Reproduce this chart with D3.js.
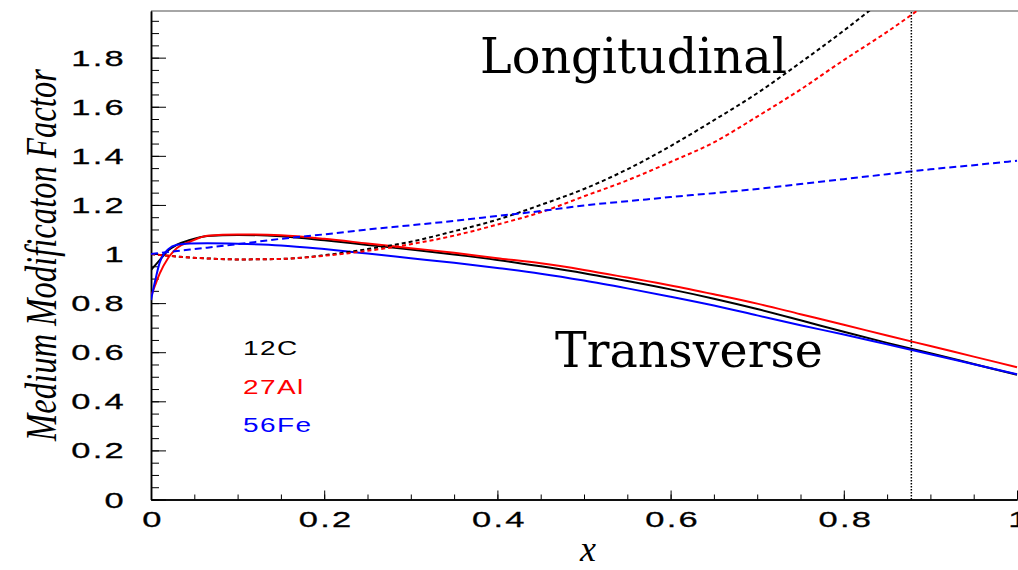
<!DOCTYPE html>
<html>
<head>
<meta charset="utf-8">
<script src="https://cdn.jsdelivr.net/npm/d3@7"></script>
<style>
  body { margin: 0; background: #fff; }
  svg { display: block; }
</style>
</head>
<body>
<div id="chart"></div>
<script>
// x grid shared by all curves
let xValues = [0, 0.005, 0.01, 0.02, 0.03, 0.045, 0.065, 0.1, 0.15, 0.2, 0.25, 0.3, 0.35, 0.4,
  0.45, 0.5, 0.55, 0.6, 0.65, 0.7, 0.75, 0.8, 0.85, 0.9, 0.95, 1.0]

// transverse (solid)
let carbonT = [0.935, 0.955, 0.975, 1.015, 1.038, 1.057, 1.073, 1.078, 1.072, 1.056, 1.037, 1.018, 0.998, 0.976,
  0.95, 0.922, 0.89, 0.856, 0.818, 0.776, 0.73, 0.683, 0.638, 0.596, 0.552, 0.508]
let aluminiumT = [0.827, 0.875, 0.92, 0.985, 1.025, 1.05, 1.074, 1.08, 1.076, 1.062, 1.043, 1.024, 1.005, 0.983,
  0.962, 0.935, 0.904, 0.872, 0.836, 0.798, 0.755, 0.712, 0.668, 0.625, 0.582, 0.539]
let ironT = [0.813, 0.894, 0.965, 1.02, 1.038, 1.043, 1.044, 1.042, 1.035, 1.02, 1.002, 0.983, 0.964, 0.943,
  0.92, 0.892, 0.86, 0.826, 0.79, 0.75, 0.71, 0.672, 0.632, 0.592, 0.551, 0.51]

// longitudinal (dashed)
let carbonL = [1.0, 0.998, 0.996, 0.993, 0.99, 0.986, 0.982, 0.978, 0.98, 0.995, 1.02, 1.05, 1.093, 1.14,
  1.2, 1.265, 1.345, 1.44, 1.545, 1.655, 1.78, 1.91, 2.05, 2.2, 2.35, 2.5]
let aluminiumL = [1.0, 0.998, 0.996, 0.993, 0.99, 0.986, 0.982, 0.978, 0.98, 0.993, 1.013, 1.04, 1.075, 1.12,
  1.17, 1.235, 1.3, 1.375, 1.455, 1.56, 1.67, 1.79, 1.905, 2.03, 2.16, 2.3]
let ironL = [1.0, 1.002, 1.004, 1.008, 1.012, 1.018, 1.026, 1.04, 1.062, 1.08, 1.1, 1.117, 1.135, 1.155,
  1.175, 1.198, 1.215, 1.232, 1.248, 1.265, 1.285, 1.305, 1.325, 1.345, 1.362, 1.38]

let nuclei = ['12C', '27Al', '56Fe']
let colors = ['#000000', '#ff0000', '#0000ff']
let yTicks = [0, 0.2, 0.4, 0.6, 0.8, 1, 1.2, 1.4, 1.6, 1.8]
let xTicks = [0, 0.2, 0.4, 0.6, 0.8, 1]
let cutX = 0.878

let width = 1018
let height = 570

let svg = d3
  .select('#chart')
  .append('svg')
  .attr('width', width)
  .attr('height', height)

let xScale = d3.scaleLinear().domain([0, 1]).range([151, 1017])
let yScale = d3.scaleLinear().domain([0, 1.99]).range([499.5, 11])

svg
  .append('clipPath')
  .attr('id', 'plot-clip')
  .append('rect')
  .attr('x', xScale(0))
  .attr('y', yScale(1.99))
  .attr('width', xScale(1) - xScale(0) + 1)
  .attr('height', yScale(0) - yScale(1.99))

// frame: grey top line
svg
  .append('line')
  .attr('x1', xScale(0))
  .attr('x2', width)
  .attr('y1', yScale(1.99))
  .attr('y2', yScale(1.99))
  .attr('stroke', '#888')
  .attr('stroke-width', 1.5)

// y ticks (minor + major), pointing into the plot
let yMinor = d3.range(0, 1.99, 0.05)
svg
  .append('g')
  .attr('transform', `translate(${xScale(0)},0)`)
  .call(d3.axisLeft(yScale).tickValues(yMinor).tickSize(-8).tickFormat('').tickSizeOuter(0))
svg
  .append('g')
  .attr('transform', `translate(${xScale(0)},0)`)
  .call(d3.axisLeft(yScale).tickValues(yTicks).tickSize(-15).tickFormat('').tickSizeOuter(0))

// x ticks
let xMinor = d3.range(0, 1.001, 0.05)
svg
  .append('g')
  .attr('transform', `translate(0,${yScale(0)})`)
  .call(d3.axisBottom(xScale).tickValues(xMinor).tickSize(-5).tickFormat('').tickSizeOuter(0))
svg
  .append('g')
  .attr('transform', `translate(0,${yScale(0)})`)
  .call(d3.axisBottom(xScale).tickValues(xTicks).tickSize(-9).tickFormat('').tickSizeOuter(0))

svg.selectAll('.domain').attr('stroke', '#000').attr('stroke-width', 1.5)
svg.selectAll('.tick line').attr('stroke', '#000').attr('stroke-width', 1)

// tick labels, wide sans like the original
svg
  .append('g')
  .selectAll('text')
  .data(yTicks)
  .enter()
  .append('text')
  .attr('transform', d => `translate(126,${yScale(d) + 8}) scale(1.5,1)`)
  .attr('text-anchor', 'end')
  .attr('font-family', 'Liberation Sans, Arial, sans-serif')
  .attr('font-size', 23)
  .attr('letter-spacing', 1.5)
  .attr('stroke', '#000')
  .attr('stroke-width', 0.3)
  .text(d => String(d))

svg
  .append('g')
  .selectAll('text')
  .data(xTicks)
  .enter()
  .append('text')
  .attr('transform', d => `translate(${xScale(d) + 2},${yScale(0) + 27}) scale(1.5,1)`)
  .attr('text-anchor', 'middle')
  .attr('font-family', 'Liberation Sans, Arial, sans-serif')
  .attr('font-size', 23)
  .attr('letter-spacing', 1.5)
  .attr('stroke', '#000')
  .attr('stroke-width', 0.3)
  .text(d => String(d))

// axis titles
svg
  .append('text')
  .attr('x', 588)
  .attr('y', 561)
  .attr('text-anchor', 'middle')
  .attr('font-family', 'Liberation Serif, serif')
  .attr('font-style', 'italic')
  .attr('font-size', 36)
  .text('x')

svg
  .append('text')
  .attr('transform', 'translate(56,255) rotate(-90)')
  .attr('text-anchor', 'middle')
  .attr('font-family', 'Liberation Serif, serif')
  .attr('font-style', 'italic')
  .attr('font-size', 44)
  .attr('textLength', 372)
  .attr('lengthAdjust', 'spacingAndGlyphs')
  .text('Medium Modificaton Factor')

// curves
let plot = svg.append('g').attr('clip-path', 'url(#plot-clip)')

let line = d3
  .line()
  .x((d, i) => xScale(xValues[i]))
  .y(d => yScale(d))
  .curve(d3.curveMonotoneX)

let longitudinal = [carbonL, aluminiumL, ironL]
let transverse = [carbonT, aluminiumT, ironT]
let dashes = ['4,3', '4,3', '7,4']

plot
  .selectAll('.transverse')
  .data(transverse)
  .enter()
  .append('path')
  .attr('class', 'transverse')
  .attr('d', line)
  .attr('fill', 'none')
  .attr('stroke', (d, i) => colors[i])
  .attr('stroke-width', 2)

plot
  .selectAll('.longitudinal')
  .data(longitudinal)
  .enter()
  .append('path')
  .attr('class', 'longitudinal')
  .attr('d', line)
  .attr('fill', 'none')
  .attr('stroke', (d, i) => colors[i])
  .attr('stroke-width', 2)
  .attr('stroke-dasharray', (d, i) => dashes[i])

// cut line
plot
  .append('line')
  .attr('x1', xScale(cutX))
  .attr('x2', xScale(cutX))
  .attr('y1', yScale(0))
  .attr('y2', yScale(1.99))
  .attr('stroke', '#000')
  .attr('stroke-width', 1.5)
  .attr('stroke-dasharray', '1.5,1.5')

// legend
svg
  .append('g')
  .selectAll('text')
  .data(nuclei)
  .enter()
  .append('text')
  .attr('transform', (d, i) => `translate(243,${355 + i * 38.5}) scale(1.4,1)`)
  .attr('font-family', 'Liberation Sans, Arial, sans-serif')
  .attr('font-size', 20)
  .attr('letter-spacing', 1)
  .attr('fill', (d, i) => colors[i])
  .text(d => d)

// labels
svg
  .append('text')
  .attr('x', 480)
  .attr('y', 73)
  .attr('font-family', 'DejaVu Serif, serif')
  .attr('font-size', 49)
  .attr('textLength', 307)
  .attr('lengthAdjust', 'spacingAndGlyphs')
  .text('Longitudinal')

svg
  .append('text')
  .attr('x', 555)
  .attr('y', 367)
  .attr('font-family', 'DejaVu Serif, serif')
  .attr('font-size', 49)
  .attr('textLength', 268)
  .attr('lengthAdjust', 'spacingAndGlyphs')
  .text('Transverse')
</script>
</body>
</html>
